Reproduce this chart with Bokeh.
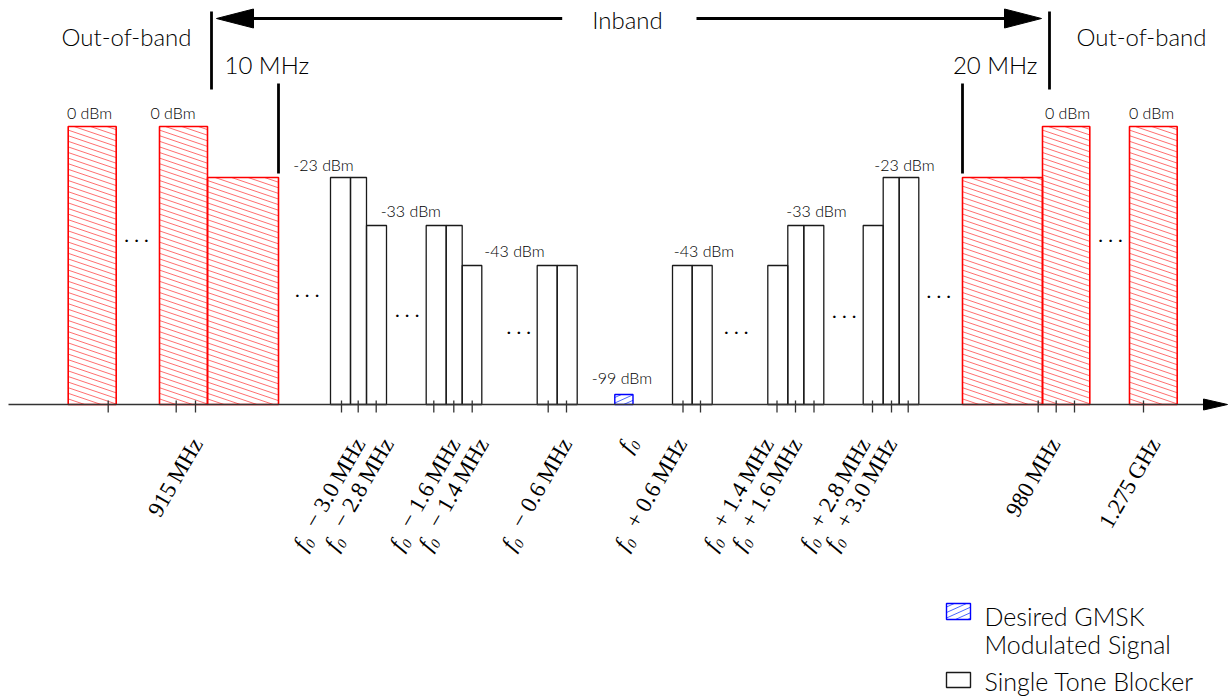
import numpy as np
from bokeh.plotting import figure
from bokeh.models import Range1d
from bokeh.core.properties import value
from bokeh.embed import file_html
from bokeh.resources import INLINE

# ---------------- data (schematic units: x along the frequency axis, y = height above it) -------------
level_height = {0: 278, -23: 227, -33: 179, -43: 139, -99: 10}

# out-of-band blockers (red, hatched)
oob_left = [67.7, 159.0, 207.0, 962.0, 1042.0, 1129.0]
oob_right = [115.7, 207.0, 278.0, 1042.0, 1089.3, 1176.7]
oob_level = [0, 0, -23, -23, 0, 0]

# in-band single tone blockers (outlined)
blk_left = [330.0, 350.0, 366.0, 425.7, 445.7, 461.7, 536.7, 556.7,
            672.0, 691.7, 767.3, 787.3, 803.3, 862.7, 882.7, 898.7]
blk_right = [350.0, 366.0, 386.0, 445.7, 461.7, 481.3, 556.7, 576.7,
             691.7, 711.7, 787.3, 803.3, 823.3, 882.7, 898.7, 918.3]
blk_level = [-23, -23, -33, -33, -33, -43, -43, -43,
             -43, -43, -43, -33, -33, -33, -23, -23]

# desired GMSK signal (blue, hatched)
sig_left = [614.3]
sig_right = [632.5]
sig_level = [-99]

# tick marks on the frequency axis
tick_x = [107.7, 175.7, 195.0, 341.0, 357.7, 375.7, 433.3, 453.3, 471.7, 547.7, 566.0,
          682.5, 700.0, 776.5, 795.0, 813.5, 872.0, 891.0, 907.7, 1037.7, 1055.7, 1074.0, 1143.0]

# power labels over the bars
pwr_text = ["0 dBm", "0 dBm", "-23 dBm", "-33 dBm", "-43 dBm", "-99 dBm",
            "-43 dBm", "-33 dBm", "-23 dBm", "0 dBm", "0 dBm"]
pwr_x = [89.0, 172.5, 323.0, 410.3, 514.0, 621.5, 703.5, 816.0, 904.0, 1067.0, 1151.0]
pwr_y = [285.7, 285.7, 234.0, 187.3, 147.3, 20.7, 147.3, 187.3, 234.0, 285.7, 285.7]

# rotated frequency labels
freq_prefix = ["", "f\u2080", "f\u2080", "f\u2080", "f\u2080", "f\u2080", "f\u2080",
               "f\u2080", "f\u2080", "f\u2080", "f\u2080", "f\u2080", "", ""]
freq_rest = ["915\u2009MHz", "\u2212 3.0\u2009MHz", "\u2212 2.8\u2009MHz", "\u2212 1.6\u2009MHz",
             "\u2212 1.4\u2009MHz", "\u2212 0.6\u2009MHz", "", "+ 0.6\u2009MHz", "+ 1.4\u2009MHz",
             "+ 1.6\u2009MHz", "+ 2.8\u2009MHz", "+ 3.0\u2009MHz", "980\u2009MHz", "1.275\u2009GHz"]
freq_end_x = [199.0, 361.7, 390.0, 456.7, 485.0, 568.3, 633.3, 683.3, 770.0, 798.3,
              866.7, 893.3, 1056.7, 1156.7]
freq_start_x = [None, 296.7, 328.0, 393.0, 421.7, 505.0, None, 618.0, 706.7, 735.0,
                803.3, 828.3, None, None]
freq_end_y = -36.0
freq_start_y = -152.0

# "..." markers
dots_x = [136.0, 306.7, 406.7, 518.3, 735.8, 843.8, 938.3, 1110.0]
dots_y = [162.5, 107.5, 87.5, 70.8, 70.8, 86.8, 106.8, 162.5]

# band annotations
band_text = ["Out-of-band", "Out-of-band"]
band_x = [126.0, 1141.0]
band_y = 358.0
edge_text = ["10 MHz", "20 MHz"]
edge_text_x = [224.0, 1037.0]
edge_text_y = 330.0
edge_x = [211.0, 278.0, 962.0, 1049.0]
edge_top = [393.0, 321.0, 321.0, 393.0]
edge_bottom = [315.0, 231.0, 231.0, 315.0]
inband_text = "Inband"
inband_x = 627.0
inband_y = 375.7
arrow_y = 386.0
arrow_left_tip, arrow_right_tip = 216.0, 1041.0
arrow_gap = (561.7, 696.0)

axis_start, axis_tip = 8.0, 1227.0

# legend
leg_labels = ["Desired GMSK", "Modulated Signal", "Single Tone Blocker"]
leg_text_x = 984.0
leg_text_y = [-221.0, -249.0, -286.0]
leg_box_left, leg_box_right = 946.0, 970.0
leg_sig_box = (-215.0, -199.0)
leg_blk_box = (-283.0, -268.0)

# ---------------- styles ----------------
SANS = value("Lato Light")
SERIF = value("Liberation Serif")
INK = "#000000"
FIX = 0.4  # baseline correction, fraction of font size


def up(vals, size):
    if np.isscalar(vals):
        return vals + FIX * size
    return [v + FIX * size for v in vals]


def hatch(lefts, rights, bottoms, tops, k, step, phase=0.0):
    """Diagonal hatch lines y = c + k (x - l), clipped to each rectangle."""
    x0, y0, x1, y1 = [], [], [], []
    for l, r, b, t in zip(lefts, rights, bottoms, tops):
        w = r - l
        c_lo = min(b, t, b - k * w, t - k * w)
        c_hi = max(b, t, b - k * w, t - k * w)
        c = np.arange(np.floor((c_lo - phase) / step) * step + phase, c_hi + step, step)
        for ci in c:
            xa = l + (b - ci) / k
            xb = l + (t - ci) / k
            xs, xe = max(l, min(xa, xb)), min(r, max(xa, xb))
            if xe - xs > 0.3:
                x0.append(xs); x1.append(xe)
                y0.append(ci + k * (xs - l)); y1.append(ci + k * (xe - l))
    return x0, y0, x1, y1


p = figure(width=1232, height=697, x_range=Range1d(0.0, 1232.0),
           y_range=Range1d(-293.0, 404.0), output_backend="svg",
           toolbar_location=None, min_border=0)
p.axis.visible = False
p.grid.visible = False
p.outline_line_color = None
p.background_fill_color = "white"
p.border_fill_color = "white"

oob_top = [level_height[v] for v in oob_level]
blk_top = [level_height[v] for v in blk_level]
sig_top = [level_height[v] for v in sig_level]

# red hatched out-of-band bars
hx0, hy0, hx1, hy1 = hatch(oob_left, oob_right, [0] * len(oob_left), oob_top, -0.34, 5.6)
p.segment(x0=hx0, y0=hy0, x1=hx1, y1=hy1, line_color="#ff2a2a", line_width=0.8, line_alpha=0.85)
p.quad(left=oob_left, right=oob_right, bottom=0, top=oob_top,
       fill_color=None, line_color="#ff0000", line_width=1.6)

# single tone blockers
p.quad(left=blk_left, right=blk_right, bottom=0, top=blk_top,
       fill_color=None, line_color="#1a1a1a", line_width=1.3)

# desired signal
sx0, sy0, sx1, sy1 = hatch(sig_left, sig_right, [0], sig_top, 0.45, 5.5, 1.5)
p.segment(x0=sx0, y0=sy0, x1=sx1, y1=sy1, line_color="#3355ff", line_width=0.9)
p.quad(left=sig_left, right=sig_right, bottom=0, top=sig_top,
       fill_color=None, line_color="#0000ff", line_width=1.4)

# frequency axis with arrow head
p.segment(x0=[axis_start], y0=[0], x1=[axis_tip - 20], y1=[0], line_color="#333333", line_width=1.3)
p.patch(x=[axis_tip - 24, axis_tip, axis_tip - 24], y=[5.5, 0, -5.5], fill_color="black", line_color="black")
p.segment(x0=tick_x, y0=4, x1=tick_x, y1=-8, line_color="#333333", line_width=1.3)

# band edges and in-band arrow
p.segment(x0=edge_x, y0=edge_bottom, x1=edge_x, y1=edge_top, line_color="black", line_width=2.8)
head_len, head_half = 37.0, 9.5
p.segment(x0=[arrow_left_tip + head_len - 2, arrow_gap[1]], y0=arrow_y,
          x1=[arrow_gap[0], arrow_right_tip - head_len + 2], y1=arrow_y,
          line_color="black", line_width=2.8)
p.patches(xs=[[arrow_left_tip, arrow_left_tip + head_len, arrow_left_tip + head_len],
              [arrow_right_tip, arrow_right_tip - head_len, arrow_right_tip - head_len]],
          ys=[[arrow_y, arrow_y + head_half, arrow_y - head_half]] * 2,
          fill_color="black", line_color="black")

p.text(x=[inband_x], y=[up(inband_y, 24)], text=[inband_text], text_font=SANS, text_font_size="24px",
       text_align="center", text_baseline="alphabetic", text_color=INK)
p.text(x=band_x, y=up(band_y, 24), text=band_text, text_font=SANS, text_font_size="24px",
       text_align="center", text_baseline="alphabetic", text_color=INK)
p.text(x=edge_text_x[:1], y=up(edge_text_y, 24), text=edge_text[:1], text_font=SANS, text_font_size="24px",
       text_align="left", text_baseline="alphabetic", text_color=INK)
p.text(x=edge_text_x[1:], y=up(edge_text_y, 24), text=edge_text[1:], text_font=SANS, text_font_size="24px",
       text_align="right", text_baseline="alphabetic", text_color=INK)

# power labels
p.text(x=pwr_x, y=up(pwr_y, 16), text=pwr_text, text_font=SANS, text_font_size="16px",
       text_align="center", text_baseline="alphabetic", text_color=INK)

# dots
p.text(x=dots_x, y=up(dots_y, 20), text=[". . ."] * len(dots_x), text_font=value("Lato"), text_font_size="20px",
       text_align="center", text_baseline="alphabetic", text_color=INK)

# rotated frequency labels
ANG = 60.0
th = np.deg2rad(ANG)
dx, dy = np.cos(th), np.sin(th)
END_BACK, START_FWD, LIFT = 5.0, 3.4, 5.0
ex = [x - dx * END_BACK for x in freq_end_x]
ey = [freq_end_y - dy * END_BACK + LIFT] * len(freq_end_x)

rest_idx = [i for i, t in enumerate(freq_rest) if t]
p.text(x=[ex[i] for i in rest_idx], y=[ey[i] for i in rest_idx], text=[freq_rest[i] for i in rest_idx],
       angle=ANG, angle_units="deg", text_font=SERIF, text_font_size="23px",
       text_align="right", text_baseline="middle", text_color=INK)
pre_idx = [i for i, t in enumerate(freq_prefix) if t and freq_start_x[i] is not None]
p.text(x=[freq_start_x[i] + dx * START_FWD for i in pre_idx],
       y=[freq_start_y + dy * START_FWD + LIFT] * len(pre_idx), text=[freq_prefix[i] for i in pre_idx],
       angle=ANG, angle_units="deg", text_font=SERIF, text_font_size="23px", text_font_style="italic",
       text_align="left", text_baseline="middle", text_color=INK)
solo_idx = [i for i, t in enumerate(freq_prefix) if t and freq_start_x[i] is None]
p.text(x=[ex[i] for i in solo_idx], y=[ey[i] + 2 for i in solo_idx], text=[freq_prefix[i] for i in solo_idx],
       angle=ANG, angle_units="deg", text_font=SERIF, text_font_size="23px", text_font_style="italic",
       text_align="right", text_baseline="middle", text_color=INK)

# legend
lx0, ly0, lx1, ly1 = hatch([leg_box_left], [leg_box_right], [leg_sig_box[0]], [leg_sig_box[1]], 0.45, 5.5, 1.0)
p.segment(x0=lx0, y0=ly0, x1=lx1, y1=ly1, line_color="#3355ff", line_width=0.9)
p.quad(left=[leg_box_left] * 2, right=[leg_box_right] * 2,
       bottom=[leg_sig_box[0], leg_blk_box[0]], top=[leg_sig_box[1], leg_blk_box[1]],
       fill_color=None, line_color=["#0000ff", "#1a1a1a"], line_width=1.4)
p.text(x=leg_text_x, y=up(leg_text_y, 25), text=leg_labels, text_font=SANS, text_font_size="25px",
       text_align="left", text_baseline="alphabetic", text_color=INK)

open("out.html", "w").write(file_html(p, INLINE))
